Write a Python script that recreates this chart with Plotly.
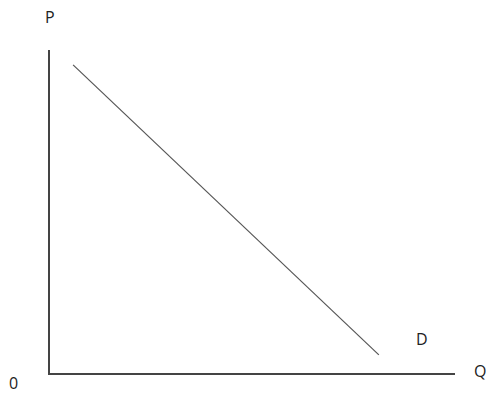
import plotly.graph_objects as go

# Demand curve endpoints (Q, P) in chart units
demand_q = [0.57, 8.12]
demand_p = [9.54, 0.56]

# Text labels
label_text = ["P", "0", "Q", "D"]
# label placement (paper fractions)
label_pos = [(0.0, 1.102), (-0.090, -0.030), (1.062, 0.006), (0.9185, 0.105)]

fig = go.Figure()
fig.add_trace(go.Scatter(x=demand_q, y=demand_p, mode="lines",
                         line=dict(color="#555555", width=1.2),
                         hoverinfo="skip", showlegend=False))

for t, (px, py) in zip(label_text, label_pos):
    fig.add_annotation(x=px, y=py, text=t, showarrow=False, xref="paper", yref="paper",
                       xanchor="center", yanchor="middle",
                       font=dict(family="Open Sans", size=16, color="#222222"))

fig.update_xaxes(range=[0, 10], showline=True, linecolor="#444444", linewidth=1.5,
                 showgrid=False, zeroline=False, showticklabels=False, ticks="")
fig.update_yaxes(range=[0, 10], showline=True, linecolor="#444444", linewidth=1.5,
                 showgrid=False, zeroline=False, showticklabels=False, ticks="")

fig.update_layout(width=486, height=393, margin=dict(l=50, r=31, t=50, b=20),
                  paper_bgcolor="white", plot_bgcolor="white")

fig.write_html("out.html", config={"displayModeBar": False},
               post_script="document.body.style.margin='0';document.body.style.overflow='hidden';")
